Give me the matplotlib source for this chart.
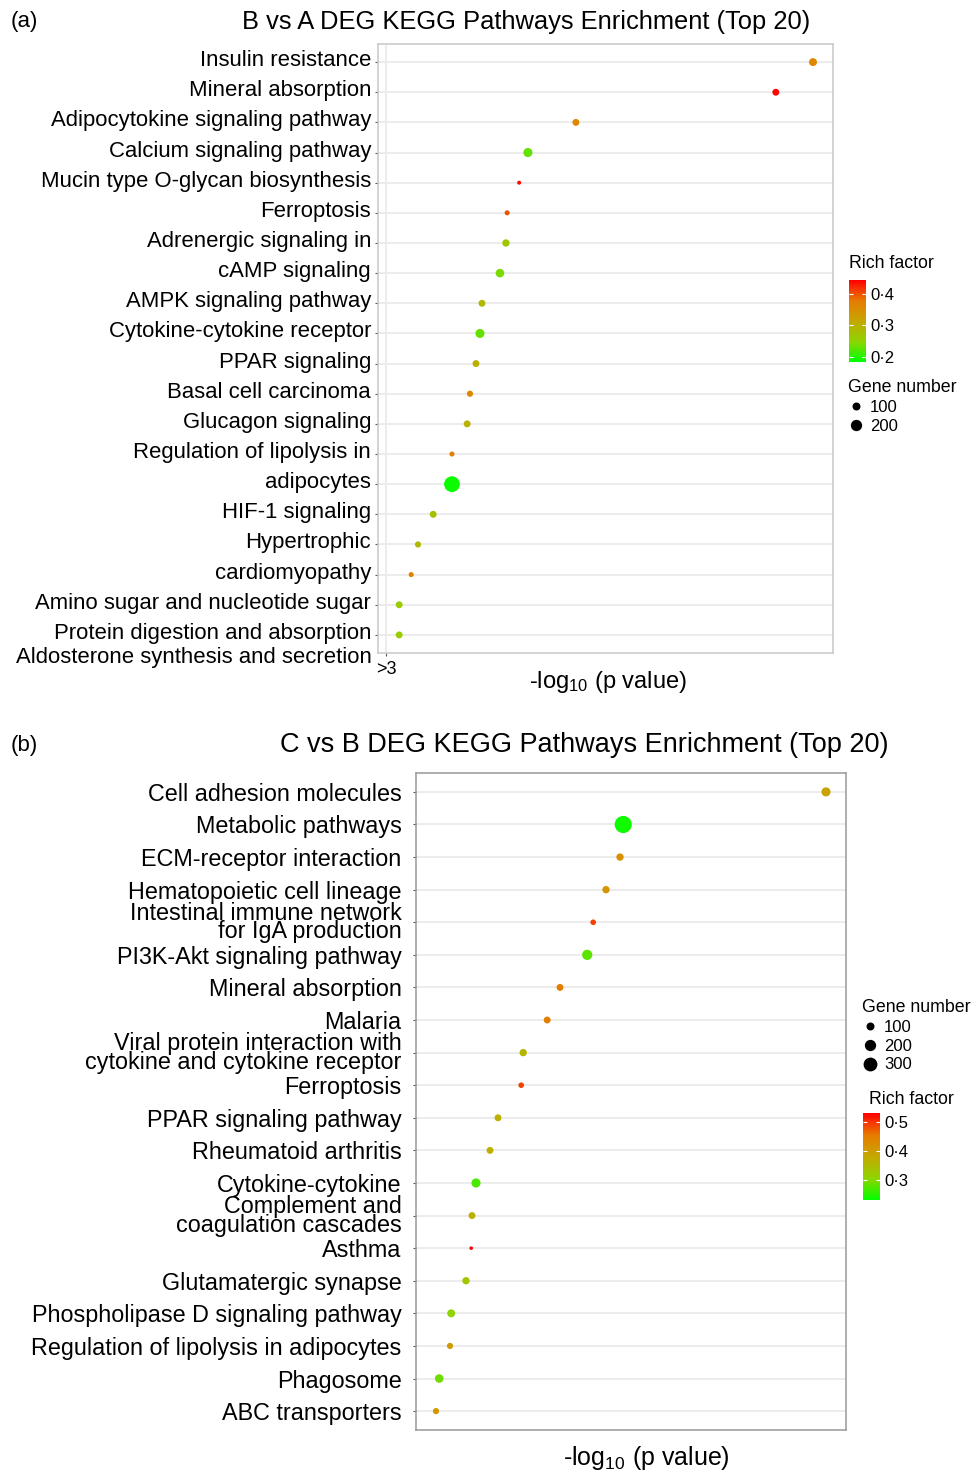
import numpy as np
import matplotlib.pyplot as plt
import matplotlib.transforms as mtransforms
from matplotlib.colors import LinearSegmentedColormap, Normalize
from matplotlib.lines import Line2D

plt.rcParams['font.family'] = ['Liberation Sans', 'DejaVu Sans']
plt.rcParams['mathtext.fontset'] = 'custom'
plt.rcParams['mathtext.rm'] = 'Liberation Sans'
plt.rcParams['mathtext.it'] = 'Liberation Sans:italic'

# PANEL (a) DATA: B vs A
a_labels = ['Insulin resistance', 'Mineral absorption', 'Adipocytokine signaling pathway',
            'Calcium signaling pathway', 'Mucin type O-glycan biosynthesis', 'Ferroptosis',
            'Adrenergic signaling in', 'cAMP signaling', 'AMPK signaling pathway',
            'Cytokine-cytokine receptor', 'PPAR signaling', 'Basal cell carcinoma',
            'Glucagon signaling', 'Regulation of lipolysis in', 'adipocytes', 'HIF-1 signaling',
            'Hypertrophic', 'cardiomyopathy', 'Amino sugar and nucleotide sugar',
            'Protein digestion and absorption']
a_extra_label = 'Aldosterone synthesis and secretion'
a_logp = [13.68, 12.75, 7.75, 6.55, 6.33, 6.03, 6.0, 5.85, 5.4, 5.35,
          5.25, 5.1, 5.03, 4.65, 4.65, 4.18, 3.8, 3.63, 3.33, 3.33]
a_rich = [0.36, 0.44, 0.36, 0.23, 0.44, 0.40, 0.27, 0.24, 0.29, 0.23,
          0.30, 0.36, 0.30, 0.37, 0.19, 0.28, 0.29, 0.37, 0.26, 0.26]
a_genes = [100, 75, 75, 130, 25, 40, 85, 115, 75, 130,
           75, 60, 75, 40, 390, 75, 60, 40, 75, 75]

# PANEL (b) DATA: C vs B
b_labels = ['Cell adhesion molecules', 'Metabolic pathways', 'ECM-receptor interaction',
            'Hematopoietic cell lineage', 'Intestinal immune network\nfor IgA production',
            'PI3K-Akt signaling pathway', 'Mineral absorption', 'Malaria',
            'Viral protein interaction with\ncytokine and cytokine receptor', 'Ferroptosis',
            'PPAR signaling pathway', 'Rheumatoid arthritis', 'Cytokine-cytokine',
            'Complement and\ncoagulation cascades', 'Asthma', 'Glutamatergic synapse',
            'Phospholipase D signaling pathway', 'Regulation of lipolysis in adipocytes',
            'Phagosome', 'ABC transporters']
b_logp = [13.05, 7.98, 7.9, 7.55, 7.23, 7.08, 6.4, 6.08, 5.48, 5.43,
          4.85, 4.65, 4.3, 4.2, 4.18, 4.05, 3.68, 3.65, 3.38, 3.3]
b_rich = [0.39, 0.24, 0.42, 0.41, 0.49, 0.28, 0.45, 0.45, 0.36, 0.49,
          0.37, 0.37, 0.27, 0.37, 0.53, 0.33, 0.31, 0.40, 0.29, 0.41]
b_genes = [130, 460, 85, 85, 50, 165, 75, 75, 85, 50,
           75, 75, 130, 75, 20, 85, 100, 60, 115, 60]

a_legend_genes = [100, 200]
b_legend_genes = [100, 200, 300]

W, H = 979, 1475
fig = plt.figure(figsize=(W / 100, H / 100), dpi=100)


def fx(px):
    return px / W


def fy(py):
    return 1 - py / H


def gene_size(n):
    return 0.33 * np.asarray(n, dtype=float)


cmap = LinearSegmentedColormap.from_list(
    'rich', ['#00FF00', '#8FD400', '#C4A800', '#E87A00', '#FF0000'])


def style_axes(ax, spine_col, pad):
    ax.set_axisbelow(True)
    ax.grid(axis='y', color='#EBEBEB', lw=1.3)
    for sp in ax.spines.values():
        sp.set_color(spine_col)
        sp.set_linewidth(1.1)
    ax.tick_params(axis='y', length=2.5, width=0.8, color='#555555', pad=pad)


def gene_legend(values, x, y):
    handles = [Line2D([], [], ls='', marker='o', color='black', markeredgewidth=0,
                      markersize=np.sqrt(gene_size(v))) for v in values]
    fig.legend(handles, [str(v) for v in values], title='Gene number',
               loc='upper left', bbox_to_anchor=(fx(x), fy(y)), frameon=False,
               fontsize=12, title_fontsize=12.8, alignment='left',
               handlelength=0.9, handletextpad=0.4, labelspacing=0.22,
               borderpad=0.2, borderaxespad=0)


def rich_bar(sc, x, y0, y1, ticks):
    cax = fig.add_axes([fx(x), fy(y1), 17 / W, (y1 - y0) / H])
    cb = fig.colorbar(sc, cax=cax, ticks=ticks)
    cb.outline.set_visible(False)
    cb.ax.set_yticklabels([('%.1f' % t).replace('.', '\u00b7') for t in ticks])
    cax.tick_params(direction='in', color='white', length=3, width=0.8,
                    labelsize=12, pad=3, left=True)


# ---------------- (a) ----------------
ax_a = fig.add_axes([fx(378), fy(653), (833 - 378) / W, (653 - 44) / H])
norm_a = Normalize(0.184, 0.444)
sc_a = ax_a.scatter(a_logp, np.arange(len(a_labels)), s=gene_size(a_genes), c=a_rich,
                    cmap=cmap, norm=norm_a, edgecolors='none', zorder=3)
ax_a.set_ylim(len(a_labels) - 0.4, -0.6)
ax_a.set_xlim(2.8, 14.18)
ax_a.set_yticks(np.arange(len(a_labels)))
ax_a.set_yticklabels(a_labels, fontsize=15.9)
ax_a.set_xticks([3])
ax_a.set_xticklabels(['>3'], fontsize=13)
style_axes(ax_a, '#C8C8C8', 2.5)
ax_a.grid(axis='x', color='#EBEBEB', lw=1.3)
ax_a.tick_params(axis='x', length=2.5, width=0.8, color='#555555', pad=3)
shift = mtransforms.ScaledTranslation(0, 4 / 100, fig.dpi_scale_trans)
for t in ax_a.get_yticklabels():
    t.set_transform(t.get_transform() + shift)
ax_a.text(-0.013, -0.008, a_extra_label, transform=ax_a.transAxes,
          ha='right', va='center', fontsize=15.9)
ax_a.set_xlabel(r'-log$_{10}$ (p value)', fontsize=17)
ax_a.xaxis.label.set_va('center')
ax_a.xaxis.set_label_coords(0.505, -0.047)

fig.text(fx(526), fy(22), 'B vs A DEG KEGG Pathways Enrichment (Top 20)',
         fontsize=18.4, ha='center', va='center')
fig.text(fx(11), fy(22), '(a)', fontsize=16, ha='left', va='center')

fig.text(fx(849), fy(263), 'Rich factor', fontsize=12.8, ha='left', va='center')
rich_bar(sc_a, 849, 280, 362, [0.2, 0.3, 0.4])
gene_legend(a_legend_genes, 845, 376)

# ---------------- (b) ----------------
ax_b = fig.add_axes([fx(416), fy(1430), (846 - 416) / W, (1430 - 773) / H])
norm_b = Normalize(0.231, 0.531)
sc_b = ax_b.scatter(b_logp, np.arange(len(b_labels)), s=gene_size(b_genes), c=b_rich,
                    cmap=cmap, norm=norm_b, edgecolors='none', zorder=3)
ax_b.set_ylim(len(b_labels) - 0.42, -0.58)
ax_b.set_xlim(2.8, 13.55)
ax_b.set_yticks(np.arange(len(b_labels)))
ax_b.set_yticklabels(b_labels, fontsize=16.8)
for t in ax_b.get_yticklabels():
    if '\n' in t.get_text():
        t.set_linespacing(0.75)
ax_b.set_xticks([])
style_axes(ax_b, '#999999', 8)
ax_b.set_xlabel(r'-log$_{10}$ (p value)', fontsize=18)
ax_b.xaxis.label.set_va('center')
ax_b.xaxis.set_label_coords(0.537, -0.043)

fig.text(fx(584), fy(745), 'C vs B DEG KEGG Pathways Enrichment (Top 20)',
         fontsize=19.5, ha='center', va='center')
fig.text(fx(11), fy(745), '(b)', fontsize=16, ha='left', va='center')

gene_legend(b_legend_genes, 859, 996)
fig.text(fx(869), fy(1099), 'Rich factor', fontsize=12.8, ha='left', va='center')
rich_bar(sc_b, 863, 1113, 1200, [0.3, 0.4, 0.5])

fig.savefig('out.png', dpi=100)
